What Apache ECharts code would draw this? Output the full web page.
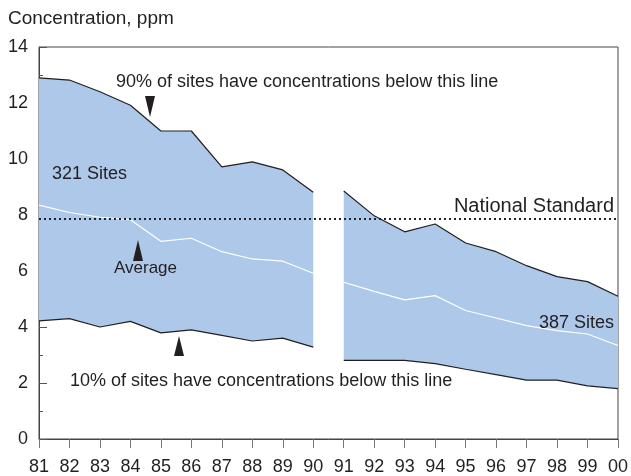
<!DOCTYPE html>
<html>
<head>
<meta charset="utf-8">
<script src="https://cdn.jsdelivr.net/npm/echarts@6/dist/echarts.min.js"></script>
<style>
  html, body { margin: 0; padding: 0; background: #fff; }
  #chart { width: 631px; height: 476px; }
</style>
</head>
<body>
<div id="chart"></div>
<script>
// 年份（横轴）
var years = ['81', '82', '83', '84', '85', '86', '87', '88', '89', '90',
  '91', '92', '93', '94', '95', '96', '97', '98', '99', '00']
// 90% 站点浓度上限
var upper = [12.9, 12.82, 12.4, 11.92, 11.0, 11.0, 9.72, 9.9, 9.61, 8.81,
  8.86, 7.97, 7.4, 7.68, 7.0, 6.69, 6.19, 5.8, 5.62, 5.1]
// 平均值
var average = [8.35, 8.09, 7.92, 7.83, 7.06, 7.17, 6.69, 6.43, 6.35, 5.92,
  5.6, 5.27, 4.97, 5.12, 4.59, 4.32, 4.05, 3.87, 3.75, 3.34]
// 10% 站点浓度下限
var lower = [4.22, 4.3, 4.0, 4.2, 3.79, 3.9, 3.7, 3.5, 3.6, 3.28,
  2.81, 2.81, 2.81, 2.69, 2.49, 2.3, 2.1, 2.1, 1.9, 1.8]
// 国家标准
var nationalStandard = 7.85

var fillColor = '#aec8e9'
var inkColor = '#231f20'
var fontFamily = '"Liberation Sans", Arial, Helvetica, sans-serif'
var fontSize = 18

// 91年起站点数变化，图线分两段
function seg (arr, from, to) {
  return arr.map(function (v, i) { return (i >= from && i <= to) ? v : '-' })
}
function diff (a, b) {
  return a.map(function (v, i) { return +(v - b[i]).toFixed(2) })
}

var segments = [[0, 9], [10, 19]]
var series = []
segments.forEach(function (s, k) {
  var stackName = 'band' + k
  series.push({
    type: 'line',
    stack: stackName,
    data: seg(lower, s[0], s[1]),
    symbol: 'none',
    lineStyle: { color: inkColor, width: 1.2 },
    z: 3
  })
  series.push({
    type: 'line',
    stack: stackName,
    data: seg(diff(upper, lower), s[0], s[1]),
    symbol: 'none',
    lineStyle: { width: 0 },
    areaStyle: { color: fillColor, opacity: 1 },
    z: 2
  })
  series.push({
    type: 'line',
    data: seg(upper, s[0], s[1]),
    symbol: 'none',
    lineStyle: { color: inkColor, width: 1.2 },
    z: 4
  })
  series.push({
    type: 'line',
    data: seg(average, s[0], s[1]),
    symbol: 'none',
    lineStyle: { color: '#ffffff', width: 1.2 },
    z: 4
  })
})

// 国家标准虚线
series.push({
  type: 'line',
  data: [],
  markLine: {
    silent: true,
    symbol: 'none',
    label: { show: false },
    lineStyle: { color: inkColor, type: [2, 3], width: 2 },
    data: [{ yAxis: nationalStandard }]
  },
  z: 5
})

function label (text, x, y, size, align) {
  return {
    type: 'text',
    left: align === 'right' ? null : x,
    right: align === 'right' ? x : null,
    top: y,
    style: { text: text, fill: inkColor, font: size + 'px ' + fontFamily },
    z: 10
  }
}
function triangle (cx, tipY, baseY) {
  return {
    type: 'polygon',
    shape: { points: [[cx, tipY], [cx - 5, baseY], [cx + 5, baseY]] },
    style: { fill: inkColor },
    z: 10
  }
}

var chart = echarts.init(document.getElementById('chart'))
var option = {
  animation: false,
  grid: {
    left: 39,
    right: 11,
    top: 47,
    bottom: 35,
    show: true,
    borderColor: '#444',
    borderWidth: 1
  },
  xAxis: {
    type: 'category',
    data: years,
    boundaryGap: false,
    axisLine: { lineStyle: { color: '#444' } },
    axisTick: { length: 9, lineStyle: { color: '#777' } },
    axisLabel: {
      color: inkColor,
      fontSize: fontSize,
      fontFamily: fontFamily,
      margin: 19,
      interval: 0
    },
    splitLine: { show: false }
  },
  yAxis: {
    type: 'value',
    min: 0,
    max: 14,
    interval: 2,
    axisLine: { show: true, lineStyle: { color: '#444' } },
    axisTick: { show: true, inside: true, length: 8, lineStyle: { color: '#555' } },
    minorTick: { show: true, splitNumber: 2, length: 4, lineStyle: { color: '#555' } },
    axisLabel: {
      color: inkColor,
      fontSize: fontSize,
      fontFamily: fontFamily,
      margin: 11
    },
    splitLine: { show: false }
  },
  graphic: [
    label('Concentration, ppm', 8, 9, 19),
    label('90% of sites have concentrations below this line', 116, 73, 18),
    triangle(150, 117, 96),
    label('321 Sites', 52, 165, 18),
    label('National Standard', 17, 196, 20, 'right'),
    triangle(138, 240, 261),
    label('Average', 114, 260, 17),
    label('387 Sites', 17, 314, 18, 'right'),
    triangle(179, 336, 356),
    label('10% of sites have concentrations below this line', 70, 372, 18)
  ],
  series: series
}
chart.setOption(option)
</script>
</body>
</html>
